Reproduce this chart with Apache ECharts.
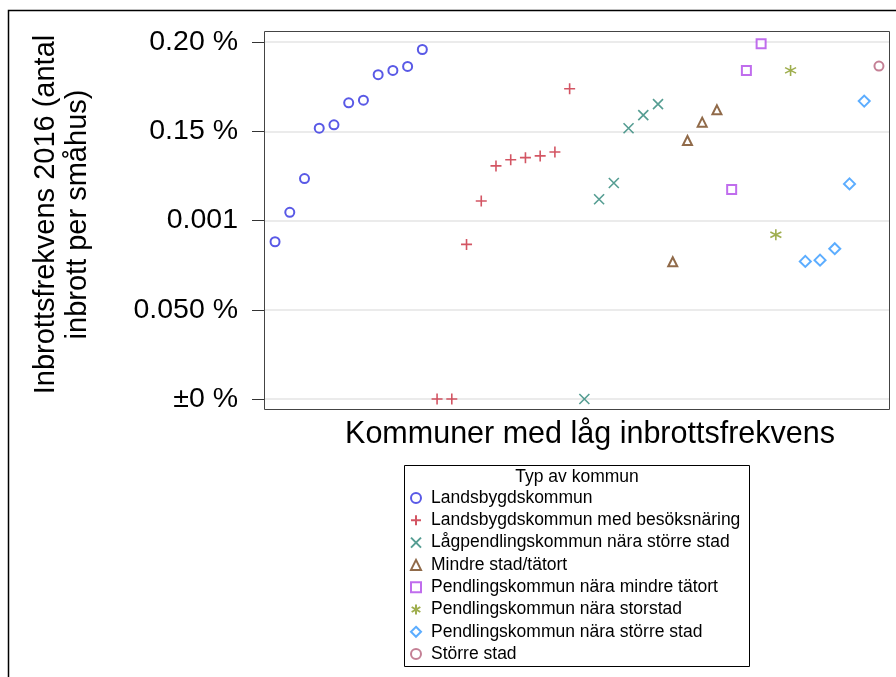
<!DOCTYPE html>
<html>
<head>
<meta charset="utf-8">
<script src="https://cdn.jsdelivr.net/npm/echarts@6/dist/echarts.min.js"></script>
<style>
html,body{margin:0;padding:0;background:#fff;}
#chart{width:896px;height:677px;}
</style>
</head>
<body>
<div id="chart"></div>
<script>
const seriesNames = [
  "Landsbygdskommun",
  "Landsbygdskommun med besöksnäring",
  "Lågpendlingskommun nära större stad",
  "Mindre stad/tätort",
  "Pendlingskommun nära mindre tätort",
  "Pendlingskommun nära storstad",
  "Pendlingskommun nära större stad",
  "Större stad"
];
const landsbygd = [0.000881, 0.001046, 0.001235, 0.001517, 0.001536, 0.001659, 0.001674, 0.001817, 0.001841, 0.001863, 0.001958];
const landsbygdBesok = [0, 0, 0.000866, 0.001109, 0.001306, 0.00134, 0.001352, 0.001362, 0.001384, 0.001738];
const lagpendling = [0, 0.001119, 0.00121, 0.001517, 0.00159, 0.001652];
const mindreStad = [0.000769, 0.001448, 0.001551, 0.00162];
const pendMindre = [0.001173, 0.001841, 0.00199];
const pendStorstad = [0.00092, 0.001841];
const pendStorre = [0.000771, 0.000778, 0.000842, 0.001205, 0.001669];
const storreStad = [0.001865];
const yTickLabels = ["±0 %", "0.050 %", "0.001", "0.15 %", "0.20 %"];
const yAxisTitle = "Inbrottsfrekvens 2016 (antal\ninbrott per småhus)";
const xAxisTitle = "Kommuner med låg inbrottsfrekvens";
const legendTitle = "Typ av kommun";

const groups = [landsbygd, landsbygdBesok, lagpendling, mindreStad, pendMindre, pendStorstad, pendStorre, storreStad];
const colors = ["#3030e0", "#c82a3c", "#2a8577", "#74451c", "#b048e8", "#879a22", "#3399ff", "#b5607a"];
const symbols = [
  "emptyCircle",
  "path://M5,0 L5,10 M0,5 L10,5",
  "path://M0,0 L10,10 M10,0 L0,10",
  "emptyTriangle",
  "emptyRect",
  "path://M5,0 L5,10 M0.67,2.5 L9.33,7.5 M9.33,2.5 L0.67,7.5",
  "emptyDiamond",
  "emptyCircle"
];
const sizes = [9, 11, 10, 9, 9, 11, 11, 9];
const widths = [1.8, 1.6, 1.6, 1.8, 1.8, 1.6, 1.8, 1.8];
const FONT = "'Liberation Sans', Arial, sans-serif";

let idx = 0;
const series = groups.map((vals, g) => {
  const data = vals.map(v => [idx++, v]);
  return {
    name: seriesNames[g],
    type: "scatter",
    data: data,
    symbol: symbols[g],
    symbolSize: sizes[g],
    itemStyle: { color: colors[g], borderColor: colors[g], borderWidth: widths[g] }
  };
});

const chart = echarts.init(document.getElementById("chart"), null, { renderer: "canvas" });
chart.setOption({
  animation: false,
  backgroundColor: "#fff",
  textStyle: { fontFamily: FONT },
  grid: { left: 264, right: 6, top: 42, bottom: 278 },
  xAxis: {
    type: "value", min: -0.75, max: 41.75,
    axisLine: { show: false, onZero: false }, axisTick: { show: false }, axisLabel: { show: false }, splitLine: { show: false },
    name: xAxisTitle, nameLocation: "middle", nameGap: 20,
    nameTextStyle: { fontSize: 30.5, color: "#000", fontFamily: FONT, padding: [0, 0, 0, 26] }
  },
  yAxis: {
    type: "value", min: 0, max: 0.002, interval: 0.0005,
    axisLine: { show: false, onZero: false },
    axisTick: { show: true, inside: false, length: 12, lineStyle: { color: "#333", width: 1 } },
    axisLabel: { fontSize: 28.5, color: "#000", margin: 26, fontFamily: FONT, formatter: (v, i) => yTickLabels[i] },
    splitLine: { show: true, lineStyle: { color: "#e4e4e4", width: 1.5 } },
    name: yAxisTitle, nameLocation: "middle", nameGap: 170,
    nameTextStyle: { fontSize: 29, color: "#000", fontFamily: FONT, lineHeight: 32, align: "center", padding: [0, 0, 0, 12] }
  },
  legend: {
    orient: "vertical", left: 410, top: 489,
    itemWidth: 10, itemHeight: 10, itemGap: 4.3,
    textStyle: { fontSize: 17.5, color: "#000", fontFamily: FONT, lineHeight: 18, padding: [0, 0, 0, 5] },
    padding: 0,
    data: seriesNames
  },
  graphic: [
    { type: "polyline", shape: { points: [[8.5, 680], [8.5, 10.5], [900, 10.5]] }, style: { fill: "none", stroke: "#000", lineWidth: 1.5 }, silent: true },
    { type: "rect", shape: { x: 264.5, y: 31.5, width: 625, height: 378 }, style: { fill: "none", stroke: "#444", lineWidth: 1 }, silent: true, z: 10 },
    { type: "rect", shape: { x: 404.5, y: 465.5, width: 345, height: 201 }, style: { fill: "none", stroke: "#000", lineWidth: 1 }, silent: true },
    { type: "text", x: 577, y: 477, style: { text: legendTitle, font: "17.5px " + FONT, fill: "#000", align: "center", verticalAlign: "middle" }, silent: true }
  ],
  series: series
});
</script>
</body>
</html>
